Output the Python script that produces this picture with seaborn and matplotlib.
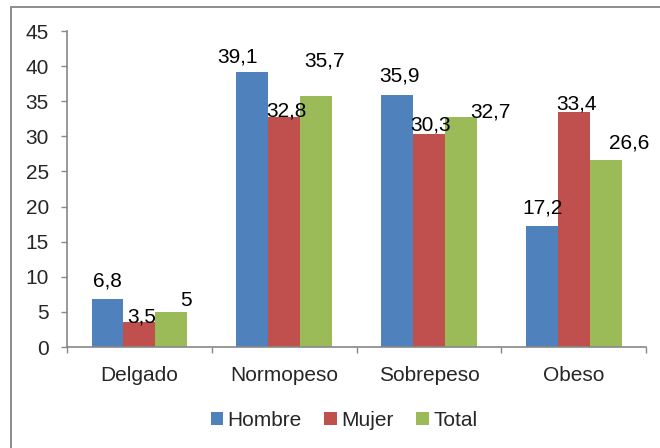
import pandas as pd
import matplotlib.pyplot as plt
from matplotlib.lines import Line2D
import seaborn as sns

categorias = ['Delgado', 'Normopeso', 'Sobrepeso', 'Obeso']
series = ['Hombre', 'Mujer', 'Total']
hombre = [6.8, 39.1, 35.9, 17.2]
mujer = [3.5, 32.8, 30.3, 33.4]
total = [5, 35.7, 32.7, 26.6]
colores = ['#4F81BD', '#C0504D', '#9BBB59']

df = pd.DataFrame({
    'Categoria': categorias * 3,
    'Serie': [s for s in series for _ in categorias],
    'Valor': hombre + mujer + total,
})

sns.set_style('white')
plt.rcParams['font.family'] = ['Liberation Sans', 'DejaVu Sans']

fig = plt.figure(figsize=(6.6, 4.48), dpi=100)
ax = fig.add_axes([0.1015, 0.2254, 0.8775, 0.7054])

sns.barplot(data=df, x='Categoria', y='Valor', hue='Serie', order=categorias,
            hue_order=series, palette=colores, width=0.66, gap=0,
            saturation=1, linewidth=0, ax=ax)

# desplazamiento manual de las etiquetas (pixeles), como en el original
desp = [
    [(0, 13), (-15, 10), (2, 13), (1, 13)],
    [(2, 0), (2, 0), (2, 4), (3, 3)],
    [(15, 6), (8, 30), (30, 0), (24, 12)],
]
for i, cont in enumerate(ax.containers):
    for j, bar in enumerate(cont):
        v = bar.get_height()
        txt = f'{v:g}'.replace('.', ',')
        ax.annotate(txt, (bar.get_x() + bar.get_width() / 2, v),
                    xytext=desp[i][j], textcoords='offset pixels',
                    ha='center', va='baseline', fontsize=15, color='black')

ax.set_xlim(-0.5, 3.5)
ax.set_ylim(0, 45)
ax.set_yticks(range(0, 46, 5))
ax.set_xticks([-0.5, 0.5, 1.5, 2.5, 3.5], minor=True)
ax.set_xlabel('')
ax.set_ylabel('')

gris = '#888888'
for s in ['top', 'right']:
    ax.spines[s].set_visible(False)
for s in ['left', 'bottom']:
    ax.spines[s].set_color(gris)
    ax.spines[s].set_linewidth(1.2)

ax.tick_params(axis='y', which='major', direction='out', length=4,
               color=gris, width=1, pad=9, labelsize=15, left=True)
ax.tick_params(axis='x', which='major', length=0, pad=14, labelsize=15)
ax.tick_params(axis='x', which='minor', direction='out', length=4,
               color=gris, width=1, bottom=True)

ax.legend(loc='center', bbox_to_anchor=(0.521, 0.062),
          bbox_transform=fig.transFigure, ncol=3, frameon=False,
          fontsize=15, handlelength=0.6, handleheight=0.6,
          handletextpad=0.2, columnspacing=1.1)

# marco exterior del grafico
fig.add_artist(Line2D([0.0167, 0.0167], [0, 0.984], color='#8c8c8c', lw=1.4,
                      transform=fig.transFigure))
fig.add_artist(Line2D([0.0167, 1], [0.984, 0.984], color='#8c8c8c', lw=1.4,
                      transform=fig.transFigure))

fig.savefig('out.png', dpi=100)
